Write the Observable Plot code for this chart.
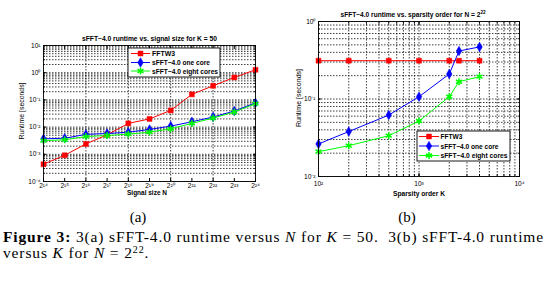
<!DOCTYPE html>
<html><head><meta charset="utf-8">
<script src="https://cdn.jsdelivr.net/npm/d3@7"></script>
<script src="https://cdn.jsdelivr.net/npm/@observablehq/plot@0.6"></script>
<style>
body{margin:0;background:#fff;}
#page{position:relative;width:549px;height:284px;overflow:hidden;background:#fff;}
.plotbox{position:absolute;top:0;}
#overlay{position:absolute;left:0;top:0;pointer-events:none;}
.sub{position:absolute;top:209px;font-family:"Liberation Serif","DejaVu Serif",serif;font-size:15px;line-height:16px;transform:translateX(-50%);}
#caption{position:absolute;left:3px;top:229px;font-family:"Liberation Serif","DejaVu Serif",serif;font-size:15.5px;line-height:16px;white-space:nowrap;color:#000;}
#caption sup{font-size:10px;line-height:0;vertical-align:baseline;position:relative;top:-0.55em;}
</style></head><body>
<div id="page">
  <div id="plotA" class="plotbox" style="left:0px"></div>
  <div id="plotB" class="plotbox" style="left:275px"></div>
  <svg id="overlay" width="549" height="205"></svg>
  <div class="sub" style="left:138px">(a)</div>
  <div class="sub" style="left:407px">(b)</div>
  <div id="caption"><span id="cap1"><b>Figure 3:</b> 3(a) sFFT-4.0 runtime versus <i>N</i> for <i>K</i> = 50. &nbsp;3(b) sFFT-4.0 runtime</span><br><span id="cap2">versus <i>K</i> for <i>N</i> = 2<sup>22</sup>.</span></div>
</div>
<script>
// ---- data ----
const seriesNames = ["FFTW3", "sFFT\u22124.0 one core", "sFFT\u22124.0 eight cores"];
// (a) runtime vs. signal size N = 2^e, K = 50
const sizeExponents = [14, 15, 16, 17, 18, 19, 20, 21, 22, 23, 24];
const fftw3VsN      = [4.3e-4, 9.2e-4, 2.4e-3, 5.2e-3, 0.0137, 0.020, 0.041, 0.160, 0.33, 0.67, 1.28];
const oneCoreVsN    = [3.7e-3, 3.9e-3, 5.4e-3, 5.8e-3, 6.5e-3, 8.2e-3, 0.0109, 0.0157, 0.0235, 0.039, 0.078];
const eightCoresVsN = [3.2e-3, 3.4e-3, 4.5e-3, 4.9e-3, 5.5e-3, 6.5e-3, 8.7e-3, 0.0137, 0.0215, 0.036, 0.073];
// (b) runtime vs. sparsity order K, N = 2^22
const sparsityK     = [100, 200, 500, 1000, 2000, 2500, 4000];
const fftw3VsK      = [0.312, 0.312, 0.312, 0.312, 0.312, 0.312, 0.312];
const oneCoreVsK    = [0.0263, 0.038, 0.062, 0.107, 0.21, 0.416, 0.47];
const eightCoresVsK = [0.0209, 0.025, 0.0336, 0.052, 0.107, 0.167, 0.194];
// tick labels
const xTickExpA = [14, 15, 16, 17, 18, 19, 20, 21, 22, 23, 24];
const xGridExpA = [16, 18, 20, 22];
const yDecadesA = [-4, -3, -2, -1, 0, 1];
const xDecadesB = [2, 3, 4];
const yDecadesB = [-2, -1, 0];

// ---- styling ----
const colors = ["#ff0000", "#0000ff", "#00ff00"];
const symbols = ["square", "diamond", "asterisk"];
const radii = [2.8, 2.9, 3.3];
const FONT = "'Liberation Sans', Arial, sans-serif";

const SUP = "⁰¹²³⁴⁵⁶⁷⁸⁹";
const sup = s => String(s).split("").map(c => c === "-" ? "⁻" : (SUP["0123456789".indexOf(c)] ?? c)).join("");
function minors(lo, hi) { const a = []; for (let e = lo; e < hi; e++) for (let k = 1; k < 10; k++) a.push(k * 10 ** e); a.push(10 ** hi); return a; }

function seriesMarks(xs, ys) {
  const out = [];
  ys.forEach((vals, i) => {
    const rows = xs.map((x, j) => ({x, y: vals[j]}));
    out.push(Plot.line(rows, {x: "x", y: "y", stroke: colors[i], strokeWidth: 1}));
  });
  ys.forEach((vals, i) => {
    const rows = xs.map((x, j) => ({x, y: vals[j]}));
    out.push(symbols[i] === "asterisk"
      ? Plot.dot(rows, {x: "x", y: "y", symbol: "asterisk", stroke: colors[i], strokeWidth: 1.5, r: radii[i]})
      : Plot.dot(rows, {x: "x", y: "y", symbol: symbols[i], fill: colors[i], stroke: colors[i], strokeWidth: 0.5, r: radii[i]}));
  });
  return out;
}
const gridStyle = {stroke: "#000", strokeOpacity: 1, strokeDasharray: "1.5,1.5", strokeWidth: 0.75};
const blank = () => "";

// ---- chart (a) ----
const xTicksA = xTickExpA.map(e => 2 ** e);
const yMajorA = yDecadesA.map(e => 10 ** e);
const yMinorA = minors(yDecadesA[0], yDecadesA[yDecadesA.length - 1]);
const chartA = Plot.plot({
  width: 275, height: 205, marginLeft: 43, marginRight: 20, marginTop: 45, marginBottom: 24,
  style: {fontFamily: FONT, fontSize: "6.6px", background: "transparent", overflow: "visible", color: "#000"},
  x: {type: "log", base: 2, domain: [2 ** 14, 2 ** 24], label: null},
  y: {type: "log", domain: [1e-4, 10], label: null},
  marks: [
    Plot.gridY(yMinorA, gridStyle),
    Plot.gridX(xGridExpA.map(e => 2 ** e), gridStyle),
    Plot.axisX(xTicksA, {anchor: "bottom", tickSize: -3, tickFormat: blank, label: null}),
    Plot.axisX(xTicksA, {anchor: "top", tickSize: -3, tickFormat: blank, label: null}),
    Plot.axisX(xTicksA, {anchor: "bottom", tickSize: 0, tickPadding: 2, tickFormat: d => "2" + sup(Math.round(Math.log2(d))), label: null}),
    Plot.axisY(yMinorA, {anchor: "left", tickSize: -1.8, tickFormat: blank, label: null}),
    Plot.axisY(yMinorA, {anchor: "right", tickSize: -1.8, tickFormat: blank, label: null}),
    Plot.axisY(yMajorA, {anchor: "left", tickSize: -3, tickFormat: blank, label: null}),
    Plot.axisY(yMajorA, {anchor: "right", tickSize: -3, tickFormat: blank, label: null}),
    Plot.axisY(yMajorA, {anchor: "left", tickSize: 0, tickPadding: 3, tickFormat: d => "10" + sup(Math.round(Math.log10(d))), label: null}),
    ...seriesMarks(xTicksA.map((_, i) => 2 ** sizeExponents[i]), [fftw3VsN, oneCoreVsN, eightCoresVsN]),
    Plot.frame({stroke: "#000", strokeWidth: 0.9})
  ]
});
document.getElementById("plotA").append(chartA);

// ---- chart (b) ----
const xMajorB = xDecadesB.map(e => 10 ** e);
const xMinorB = minors(xDecadesB[0], xDecadesB[xDecadesB.length - 1]);
const yMajorB = yDecadesB.map(e => 10 ** e);
const yMinorB = minors(yDecadesB[0], yDecadesB[yDecadesB.length - 1]);
const chartB = Plot.plot({
  width: 274, height: 205, marginLeft: 43, marginRight: 30, marginTop: 21, marginBottom: 29,
  style: {fontFamily: FONT, fontSize: "6.6px", background: "transparent", overflow: "visible", color: "#000"},
  x: {type: "log", domain: [100, 10000], label: null},
  y: {type: "log", domain: [0.01, 1], label: null},
  marks: [
    Plot.gridY(yMinorB, gridStyle),
    Plot.gridX(xMinorB, gridStyle),
    Plot.axisX(xMinorB, {anchor: "bottom", tickSize: -1.8, tickFormat: blank, label: null}),
    Plot.axisX(xMinorB, {anchor: "top", tickSize: -1.8, tickFormat: blank, label: null}),
    Plot.axisX(xMajorB, {anchor: "bottom", tickSize: -3, tickFormat: blank, label: null}),
    Plot.axisX(xMajorB, {anchor: "top", tickSize: -3, tickFormat: blank, label: null}),
    Plot.axisX(xMajorB, {anchor: "bottom", tickSize: 0, tickPadding: 5, tickFormat: d => "10" + sup(Math.round(Math.log10(d))), label: null}),
    Plot.axisY(yMinorB, {anchor: "left", tickSize: -1.8, tickFormat: blank, label: null}),
    Plot.axisY(yMinorB, {anchor: "right", tickSize: -1.8, tickFormat: blank, label: null}),
    Plot.axisY(yMajorB, {anchor: "left", tickSize: -3, tickFormat: blank, label: null}),
    Plot.axisY(yMajorB, {anchor: "right", tickSize: -3, tickFormat: blank, label: null}),
    Plot.axisY(yMajorB, {anchor: "left", tickSize: 0, tickPadding: 3, tickFormat: d => "10" + sup(Math.round(Math.log10(d))), label: null}),
    ...seriesMarks(sparsityK, [fftw3VsK, oneCoreVsK, eightCoresVsK]),
    Plot.frame({stroke: "#000", strokeWidth: 0.9})
  ]
});
document.getElementById("plotB").append(chartB);

// ---- overlay: titles, axis labels, legends ----
const svg = d3.select("#overlay").style("font-family", FONT);
function label(x, y, txt, opts = {}) {
  const t = svg.append("text").attr("x", x).attr("y", y).attr("text-anchor", opts.anchor || "middle")
    .attr("dominant-baseline", "central").attr("font-size", opts.size || 6.6).attr("font-weight", opts.weight || "normal");
  if (opts.len) t.attr("textLength", opts.len).attr("lengthAdjust", "spacingAndGlyphs");
  if (opts.rotate) t.attr("transform", `rotate(-90 ${x} ${y})`);
  t.text(txt);
  return t;
}
label(149.5, 38, "sFFT\u22124.0 runtime vs. signal size for K = 50", {weight: "bold", size: 6.6, len: 135});
const tb = label(413, 14, "sFFT\u22124.0 runtime vs. sparsity order  for N = 2", {weight: "bold", size: 6.6, len: 145});
tb.append("tspan").attr("dy", -2.4).attr("font-size", 4.6).text("22");
label(21, 111, "Runtime [seconds]", {rotate: true, size: 6.8, len: 57});
label(298, 98, "Runtime [seconds]", {rotate: true, size: 6.8, len: 58});
label(147, 192, "Signal size N", {size: 6.8, weight: "bold", len: 40});
label(419, 193, "Sparsity order K", {size: 6.8, weight: "bold", len: 52});

const legendLens = [[23, 58, 66], [22, 58, 67]];
function legend(which, x, y, w, h, rowsY, lx0, lx1, tx) {
  svg.append("rect").attr("x", x).attr("y", y).attr("width", w).attr("height", h)
    .attr("fill", "#fff").attr("stroke", "#000").attr("stroke-width", 0.9);
  const sym = {square: d3.symbolSquare, diamond: d3.symbolDiamond, asterisk: d3.symbolAsterisk};
  seriesNames.forEach((name, i) => {
    const yy = rowsY[i];
    svg.append("line").attr("x1", lx0).attr("x2", lx1).attr("y1", yy).attr("y2", yy).attr("stroke", colors[i]).attr("stroke-width", 1);
    const p = svg.append("path").attr("transform", `translate(${(lx0 + lx1) / 2},${yy})`)
      .attr("d", d3.symbol(sym[symbols[i]], Math.PI * radii[i] ** 2)());
    if (symbols[i] === "asterisk") p.attr("fill", "none").attr("stroke", colors[i]).attr("stroke-width", 1.5);
    else p.attr("fill", colors[i]).attr("stroke", colors[i]).attr("stroke-width", 0.5);
    label(tx, yy, name, {anchor: "start", size: 7, weight: "bold", len: legendLens[which][i]});
  });
}
legend(0, 128, 48, 92, 29, [53.5, 62.5, 71], 131, 150, 152);
legend(1, 417, 131, 93, 30, [136.5, 146, 155.5], 419, 439, 440.5);

// fit caption line 1 to the reference width
const cap1 = document.getElementById("cap1");
const targetW = 541;
const w1 = cap1.getBoundingClientRect().width;
const nChars = cap1.textContent.length;
const ls = (targetW - w1) / nChars;
document.getElementById("caption").style.letterSpacing = ls + "px";
</script>
</body></html>
